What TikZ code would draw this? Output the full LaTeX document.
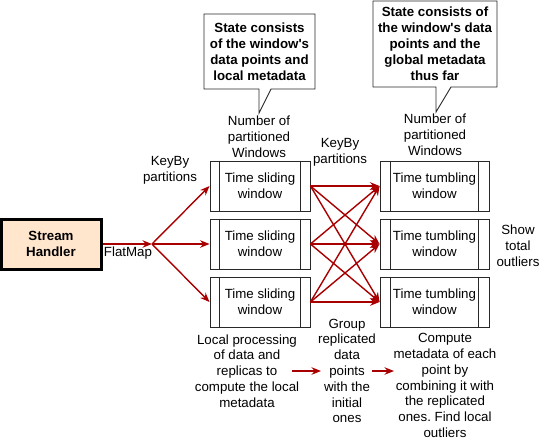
\documentclass[tikz,border=0pt]{standalone}
\usepackage{fontspec}
\setmainfont{Liberation Sans}[Ligatures=TeXOff]
\frenchspacing
\usetikzlibrary{arrows.meta}
\definecolor{arr}{RGB}{168,0,0}
\definecolor{peach}{RGB}{255,230,204}
\definecolor{edge}{RGB}{40,40,40}
\tikzset{
  txt/.style={align=center,inner sep=0pt,font=\fontsize{13.3}{15.8}\selectfont},
  btxt/.style={txt,font=\fontsize{13.3}{16}\selectfont\bfseries},
  redarrow/.style={draw=arr,line width=1.4pt,-{Stealth[length=9.5pt,width=7.5pt]}},
  winbox/.style={draw=edge,line width=0.9pt,minimum height=50pt,inner sep=0pt,txt},
  callout/.style={draw=edge,line width=0.9pt,fill=white},
}
\begin{document}
\begin{tikzpicture}[x=1pt,y=-1pt]
\useasboundingbox (0,0) rectangle (540,440);
% stream handler
\node[btxt,draw=black,line width=3pt,fill=peach,minimum width=100pt,minimum height=50pt] (sh) at (51,244) {Stream\\Handler};
\node[txt] (flat) at (128,253) {FlatMap};
\coordinate (split) at (152,244);
\node[txt] (kb1) at (170,170) {KeyBy\\partitions};
% sliding windows
\foreach \i/\y in {1/186,2/244,3/302}{
  \node[winbox,minimum width=100pt] (s\i) at (260,\y) {Time sliding\\window};
  \draw[draw=edge,line width=0.9pt] ([xshift=10pt]s\i.north west) -- ([xshift=10pt]s\i.south west);
  \draw[draw=edge,line width=0.9pt] ([xshift=-10pt]s\i.north east) -- ([xshift=-10pt]s\i.south east);
}
% tumbling windows
\foreach \i/\y in {1/186,2/244,3/302}{
  \node[winbox,minimum width=109pt] (t\i) at (434.5,\y) {Time tumbling\\window};
  \draw[draw=edge,line width=0.9pt] ([xshift=11pt]t\i.north west) -- ([xshift=11pt]t\i.south west);
  \draw[draw=edge,line width=0.9pt] ([xshift=-11pt]t\i.north east) -- ([xshift=-11pt]t\i.south east);
}
% arrows left
\draw[redarrow] (sh.east) -- (split);
\foreach \i in {1,2,3}{ \draw[redarrow] (split) -- (s\i.west); }
% cross arrows
\foreach \i in {1,2,3}{
  \foreach \j in {1,2,3}{
    \draw[redarrow] (s\i.east) -- (t\j.west);
  }
}
% labels above
\node[txt] (np1) at (259,137) {Number of\\partitioned\\Windows};
\node[txt] (np2) at (435,135) {Number of\\partitioned\\Windows};
\node[txt] (kb2) at (340,152) {KeyBy\\partitions};
\node[txt] (show) at (518,246) {Show\\total\\outliers};
% callouts
\draw[callout] (204,14) -- (315,14) -- (315,89) -- (271,89) -- (259,113) -- (259,89) -- (204,89) -- cycle;
\node[btxt] (c1) at (259.5,52) {State consists\\of the window's\\data points and\\local metadata};
\draw[callout] (373,1) -- (497,1) -- (497,87) -- (451,87) -- (436,112) -- (436,87) -- (373,87) -- cycle;
\node[btxt] (c2) at (435,44) {State consists of\\the window's data\\points and the\\global metadata\\thus far};
% bottom texts
\node[txt] (loc) at (247,371) {Local processing\\of data and\\replicas to\\compute the local\\metadata};
\node[txt] (grp) at (347,371) {Group\\replicated\\data\\points\\with the\\initial\\ones};
\node[txt] (cmp) at (445,385.5) {Compute\\metadata of each\\point by\\combining it with\\the replicated\\ones. Find local\\outliers};
\coordinate (a1s) at (292,371);
\coordinate (a1e) at (321,371);
\coordinate (a2s) at (372,371);
\coordinate (a2e) at (394,371);
\draw[redarrow] (a1s) -- (a1e);
\draw[redarrow] (a2s) -- (a2e);
\end{tikzpicture}
\end{document}
